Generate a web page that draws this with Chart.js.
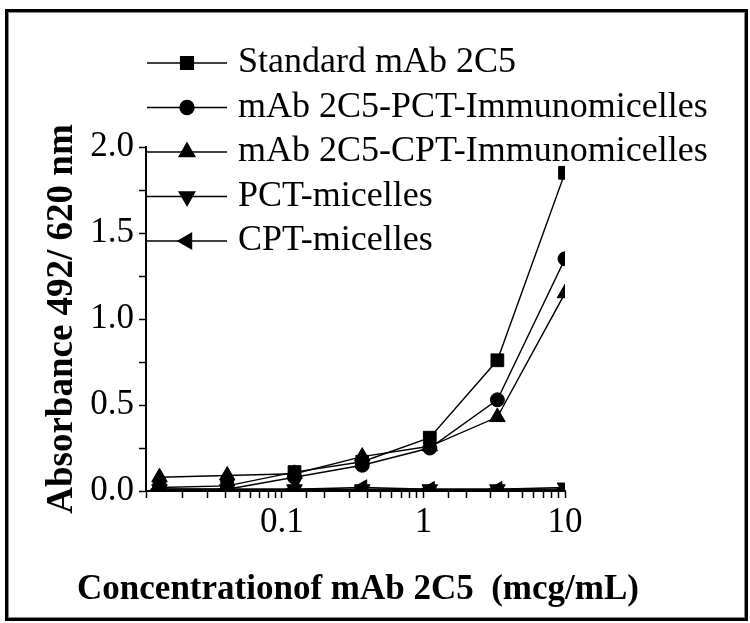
<!DOCTYPE html>
<html>
<head>
<meta charset="utf-8">
<script src="https://cdn.jsdelivr.net/npm/chart.js@4.4.1/dist/chart.umd.min.js"></script>
<style>
    html, body { margin: 0; padding: 0; background: #fff; }
    #wrap { position: relative; width: 750px; height: 623px; overflow: hidden; }
    #wrap canvas { position: absolute; left: 0; top: 0; }
    #frame {
        position: absolute; left: 5px; top: 9px; width: 737px; height: 606px;
        border: 3px solid #000; box-shadow: inset 0 0 0 1px #888; pointer-events: none;
    }
</style>
</head>
<body>
<div id="wrap">
    <canvas id="elisaChart" width="750" height="623"></canvas>
    <div id="frame"></div>
</div>
<script>
// ============================================
// ELISA binding curves (absorbance vs. mAb 2C5 concentration)
// ============================================

// 3-fold dilution series, mcg/mL
const concentrations = [0.0137, 0.0412, 0.123, 0.370, 1.11, 3.33, 10];

const standardMab  = [0.02, 0.03, 0.11, 0.17, 0.31, 0.76, 1.85];
const pctImmuno    = [0.01, 0.01, 0.08, 0.15, 0.25, 0.53, 1.35];
const cptImmuno    = [0.08, 0.09, 0.10, 0.20, 0.26, 0.43, 1.15];
const pctMicelles  = [0.01, 0.01, 0.01, 0.01, 0.01, 0.01, 0.02];
const cptMicelles  = [0.01, 0.01, 0.01, 0.02, 0.01, 0.01, 0.01];

const seriesNames = [
    'Standard mAb 2C5',
    'mAb 2C5-PCT-Immunomicelles',
    'mAb 2C5-CPT-Immunomicelles',
    'PCT-micelles',
    'CPT-micelles'
];

const xTickLabels = [0.1, 1, 10];
const yTickLabels = [0, 0.5, 1.0, 1.5, 2.0];
const xTitle = 'Concentrationof mAb 2C5  (mcg/mL)';
const yTitle = 'Absorbance 492/ 620 nm';

const SERIF = "'Liberation Serif', 'Times New Roman', serif";

function toPoints(values) {
    return concentrations.map(function (c, i) { return { x: c, y: values[i] }; });
}

function makeDataset(label, values, style, rotation, radius) {
    return {
        label: label,
        data: toPoints(values),
        borderColor: '#000',
        backgroundColor: '#000',
        borderWidth: 1.4,
        pointStyle: style,
        pointRotation: rotation,
        pointRadius: radius,
        pointBorderWidth: 1,
        pointBackgroundColor: '#000',
        pointBorderColor: '#000',
        tension: 0
    };
}

// legend inside the plot (line + marker) and the x title, which is wider than the plot
const extras = {
    id: 'extras',
    afterDraw: function (chart) {
        const ctx = chart.ctx;
        ctx.save();
        chart.data.datasets.forEach(function (ds, i) {
            const y = 63 + i * 44.5;
            ctx.strokeStyle = '#000';
            ctx.lineWidth = 1.4;
            ctx.beginPath();
            ctx.moveTo(147, y);
            ctx.lineTo(227, y);
            ctx.stroke();
            ctx.fillStyle = '#000';
            Chart.helpers.drawPoint(ctx, {
                pointStyle: ds.pointStyle,
                rotation: ds.pointRotation,
                radius: ds.pointRadius,
                borderWidth: 1
            }, 187, y);
            ctx.font = '36px ' + SERIF;
            ctx.textBaseline = 'middle';
            ctx.textAlign = 'left';
            ctx.fillText(ds.label, 238, y);
        });
        ctx.font = 'bold 35px ' + SERIF;
        ctx.textAlign = 'center';
        ctx.textBaseline = 'middle';
        ctx.fillText(xTitle, 358, 590);
        ctx.restore();
    }
};

const canvas = document.getElementById('elisaChart');
new Chart(canvas, {
    type: 'line',
    data: {
        datasets: [
            makeDataset(seriesNames[0], standardMab, 'rect', 0, 9),
            makeDataset(seriesNames[1], pctImmuno, 'circle', 0, 7),
            makeDataset(seriesNames[2], cptImmuno, 'triangle', 0, 9),
            makeDataset(seriesNames[3], pctMicelles, 'triangle', 180, 9),
            makeDataset(seriesNames[4], cptMicelles, 'triangle', -90, 9)
        ]
    },
    options: {
        responsive: false,
        animation: false,
        layout: {
            padding: { left: 0, right: 185, top: 147, bottom: 0 }
        },
        plugins: {
            legend: { display: false },
            tooltip: { enabled: false }
        },
        scales: {
            x: {
                type: 'logarithmic',
                min: 0.011,
                max: 10,
                border: { color: '#000', width: 2 },
                grid: {
                    drawOnChartArea: false,
                    drawTicks: true,
                    tickLength: 7,
                    tickWidth: 1.5,
                    tickColor: '#000'
                },
                ticks: {
                    autoSkip: false,
                    maxRotation: 0,
                    color: '#000',
                    padding: 4,
                    font: { family: SERIF, size: 35 },
                    callback: function (value) {
                        const hit = xTickLabels.find(function (t) { return Math.abs(t - value) < 1e-9; });
                        return hit !== undefined ? String(hit) : '';
                    }
                },
                afterFit: function (scale) { scale.height = 132; }
            },
            y: {
                type: 'linear',
                min: 0,
                max: 2,
                border: { color: '#000', width: 2 },
                grid: {
                    drawOnChartArea: false,
                    drawTicks: true,
                    tickLength: 7,
                    tickWidth: 1.5,
                    tickColor: '#000'
                },
                ticks: {
                    stepSize: 0.25,
                    autoSkip: false,
                    color: '#000',
                    padding: 5,
                    font: { family: SERIF, size: 35 },
                    callback: function (value) {
                        const hit = yTickLabels.find(function (t) { return Math.abs(t - value) < 1e-9; });
                        return hit !== undefined ? hit.toFixed(1) : '';
                    }
                },
                title: {
                    display: true,
                    text: yTitle,
                    color: '#000',
                    font: { family: SERIF, size: 37, weight: 'bold' },
                    padding: { top: 40, bottom: 0 }
                },
                afterFit: function (scale) { scale.width = 146; }
            }
        }
    },
    plugins: [extras]
});
</script>
</body>
</html>
